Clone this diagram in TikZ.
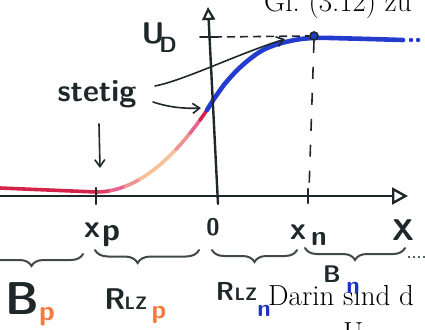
\documentclass[tikz,border=0pt]{standalone}
\usetikzlibrary{arrows.meta,decorations.pathreplacing}
\definecolor{ink}{RGB}{30,40,42}
\definecolor{curveblue}{RGB}{35,60,205}
\definecolor{redA}{RGB}{212,35,72}
\definecolor{pinkB}{RGB}{232,100,140}
\definecolor{peach}{RGB}{246,192,152}
\definecolor{subor}{RGB}{246,122,62}
\definecolor{subbl}{RGB}{30,50,200}
\begin{document}
\begin{tikzpicture}[x=1pt,y=-1pt,
  hand/.style={text=ink,inner sep=0pt,font=\sffamily\bfseries\fontsize{#1}{#1}\selectfont},
  hand/.default=28,
  printed/.style={text=black,inner sep=0pt,anchor=base west,font=\fontsize{29}{34}\selectfont},
  axisline/.style={draw=ink,line width=2.8pt,line cap=round},
  pointer/.style={draw=ink,line width=1.6pt,line cap=round,-{Straight Barb[length=7pt,width=10pt,line width=1.6pt]}},
  hbrace/.style={draw=ink!85,line width=2pt,line cap=round,decorate,decoration={brace,mirror,amplitude=#1}},
  guide/.style={draw=ink,line width=1.6pt},
  bluecurve/.style={draw=curveblue,line width=4.6pt,line cap=round,line join=round},
  pinkcurve/.style={line width=3.6pt,line cap=round}
]
\useasboundingbox (0,0) rectangle (425,329);
\clip (0,0) rectangle (425,329);

% printed text of the page
\node[printed] (gl) at (264,12) {Gl.\ (3.12) zu};
\node[printed] (darin) at (268,305) {Darin sind d};
\node[printed] (uu) at (343,342) {U};

% red / pink part of the curve
\draw[redA,line width=3.6pt,line cap=round] (0,188) -- (96,192);
\foreach \a/\b/\c in {96/110/redA!60!pinkB, 110/125/pinkB, 125/140/pinkB!50!peach, 140/176/peach, 176/190/peach!50!pinkB, 190/200/pinkB, 200/207/redA}{
  \draw[pinkcurve,\c] plot[domain=\a:\b,samples=8] (\x,{192-82*((\x-96)/111)^2});
}

% blue part of the curve
\draw[bluecurve] plot[smooth,tension=0.6] coordinates {(207,110) (216,96) (228,80) (245,63) (265,49) (290,41) (314,38) (350,38.5) (403,40)};
\fill[curveblue] (411,40) circle (2.2pt) (418,40) circle (2.2pt);

% axes
\coordinate (xl) at (0,196);
\coordinate (xr) at (408,196);
\coordinate (yb) at (218,204);
\coordinate (yt) at (208,7);
\draw[axisline,-{Triangle[open,length=16pt,width=17pt,line width=2.4pt]}] (xl) -- (xr);
\draw[axisline,line width=2.4pt,-{Triangle[open,length=13pt,width=13pt,line width=2.2pt]}] (yb) -- (yt);

% ticks
\draw[axisline,line width=2.4pt] (96,188) -- (96,204);
\draw[axisline,line width=2.4pt] (308,189) -- (308,203);
\draw[axisline,line width=2pt] (200,37) -- (214,37);

% guide lines to the point (x_n, U_D)
\node[circle,draw=ink,fill=curveblue,line width=1.6pt,inner sep=0pt,minimum size=8pt] (pt) at (314,36) {};
\draw[guide,dash pattern=on 8pt off 5pt] (214,37) -- (pt.west);
\draw[guide,dash pattern=on 12pt off 14pt] (pt.south) -- (309,190);

% labels on the axes
\node[hand=30] (U) at (153,33) {U};
\node[hand=22] (D) at (168,45) {D};
\node[hand=32] (xp1) at (92,230) {x};
\node[hand=32] (xp2) at (111,236) {p};
\node[hand=24] (zero) at (213,227) {0};
\node[hand=32] (xn1) at (298,232) {x};
\node[hand=28] (xn2) at (319,239) {n};
\node[hand=30] (X) at (403,230) {X};

% "stetig" with its arrows
\node[hand=31] (stetig) at (97,94) {stetig};
\coordinate (s1) at (155,86);
\coordinate (e1) at (285,39);
\coordinate (s2) at (153,102);
\coordinate (e2) at (201,108);
\coordinate (s3) at (99,124);
\coordinate (e3) at (100,168);
\draw[pointer] (s1) .. controls (185,80) and (235,55) .. (e1);
\draw[pointer] (s2) .. controls (165,106) and (180,109) .. (e2);
\draw[pointer] (s3) -- (e3);

% braces
\coordinate (b1l) at (-20,254);
\coordinate (b1r) at (83,254);
\coordinate (b2l) at (95,250);
\coordinate (b2r) at (199,250);
\coordinate (b3l) at (212,250);
\coordinate (b3r) at (297,250);
\coordinate (b4l) at (305,248);
\coordinate (b4r) at (405,248);
\draw[hbrace=12pt,decoration={aspect=0.5}] (b1l) -- (b1r);
\draw[hbrace=13pt,decoration={aspect=0.41}] (b2l) -- (b2r);
\draw[hbrace=12pt,decoration={aspect=0.5}] (b3l) -- (b3r);
\draw[hbrace=12pt,decoration={aspect=0.5}] (b4l) -- (b4r);
\foreach \d in {409,414,419,424}{\fill[ink] (\d,257) circle (1.1pt);}

% region names
\node[hand=46] (Bp) at (22,299) {B};
\node[hand=28,text=subor] (Bpsub) at (47,317) {p};
\node[hand=30] (R1) at (115,299) {R};
\node[hand=18] (LZ1) at (136,303) {LZ};
\node[hand=26,text=subor] (R1sub) at (159,315) {p};
\node[hand=26] (R2) at (225,291) {R};
\node[hand=18] (LZ2) at (246,294) {LZ};
\node[hand=24,text=subbl] (R2sub) at (264,311) {n};
\node[hand=24] (Bn) at (332,274) {B};
\node[hand=24,text=subbl] (Bnsub) at (353,288) {n};
\end{tikzpicture}
\end{document}
